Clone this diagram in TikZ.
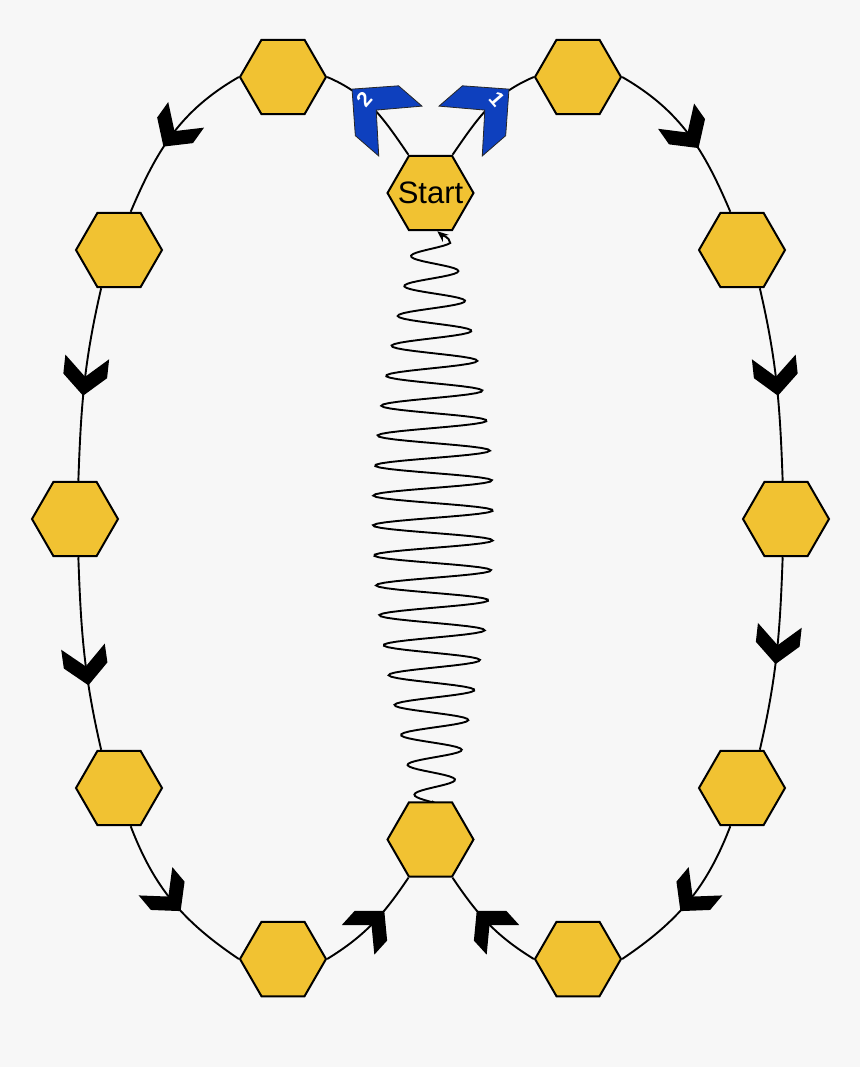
\documentclass[tikz,border=0pt]{standalone}
\usepackage{fontspec}
\setmainfont{Liberation Sans}
\usetikzlibrary{shapes.geometric,decorations.markings,arrows.meta}
\definecolor{bgcol}{RGB}{247,247,247}
\definecolor{hexgold}{RGB}{241,194,50}
\definecolor{chevblue}{RGB}{14,64,190}
\pgfdeclarelayer{bg}
\pgfsetlayers{bg,main}
\tikzset{
  hex/.style={regular polygon, regular polygon sides=6, minimum size=86pt, inner sep=0pt,
    draw=black, line width=2pt, fill=hexgold},
  conn/.style={line width=1.9pt, black},
  chev/.style={postaction={decorate, decoration={markings, mark=at position #1 with {
    \fill[black] (10,0)--(-10,22)--(-29,22)--(-9,0)--(-29,-22)--(-10,-22)--cycle;}}}},
  bluechev/.style 2 args={postaction={decorate, decoration={markings, mark=at position #1 with {
    \filldraw[fill=chevblue, draw=black!85, line width=0.8pt] (16,0)--(-17,33)--(-48,33)--(-16,0)--(-48,-33)--(-17,-33)--cycle;
    \node[transform shape, rotate=-90, text=white, inner sep=0pt, font=\fontsize{21}{21}\selectfont\bfseries] at (0,0) {#2};}}}},
  springline/.style={line width=1.9pt, black, -{Stealth[length=11pt,width=9pt]}}
}
\begin{document}
\begin{tikzpicture}[x=1pt,y=1pt]
\useasboundingbox (0,0) rectangle (860,-1067);
% hexagons
\node[hex, label={[font=\fontsize{31}{36}\selectfont]center:Start}] (S)  at (430.5,-193) {};
\node[hex] (TL) at (283,-77) {};
\node[hex] (TR) at (578,-77) {};
\node[hex] (L1) at (119,-250) {};
\node[hex] (L2) at (75,-519) {};
\node[hex] (L3) at (119,-788) {};
\node[hex] (BL) at (283,-959) {};
\node[hex] (BM) at (430.5,-839.5) {};
\node[hex] (R1) at (742,-250) {};
\node[hex] (R2) at (786,-519) {};
\node[hex] (R3) at (742,-788) {};
\node[hex] (BR) at (578,-959) {};
\begin{pgfonlayer}{bg}
\fill[bgcol] (0,0) rectangle (860,-1067);
% left path
\draw[conn, bluechev={0.62}{2}] (S.120) to[out=124.5, in=-23] (TL.0);
\draw[conn, chev=0.53] (TL.180) to[out=210, in=67] (L1.73);
\draw[conn, chev=0.51] (L1.245) to[out=257, in=88] (L2.85);
\draw[conn, chev=0.61] (L2.275) to[out=272, in=103] (L3.115);
\draw[conn, chev=0.51] (L3.287) to[out=291, in=146] (BL.180);
\draw[conn, chev=0.56] (BL.0) to[out=31.6, in=236] (BM.240);
% right path
\draw[conn, bluechev={0.62}{1}] (S.60) to[out=55.5, in=203] (TR.180);
\draw[conn, chev=0.54] (TR.0) to[out=-30, in=113] (R1.107);
\draw[conn, chev=0.51] (R1.295) to[out=283, in=92] (R2.95);
\draw[conn, chev=0.50] (R2.265) to[out=268, in=77] (R3.65);
\draw[conn, chev=0.51] (R3.253) to[out=249, in=34] (BR.0);
\draw[conn, chev=0.56] (BR.180) to[out=148.4, in=-56] (BM.300);
% spring
\draw[springline] (BM.88) -- plot[domain=0:560, samples=400, variable=\t]
  ({433+(22+38*sin((\t-23)/524*180))*sin(mod(90+(\t-23)*12.02,360))}, {\t-803})
  to[out=100, in=-40] (S.280);
\end{pgfonlayer}
\end{tikzpicture}
\end{document}
